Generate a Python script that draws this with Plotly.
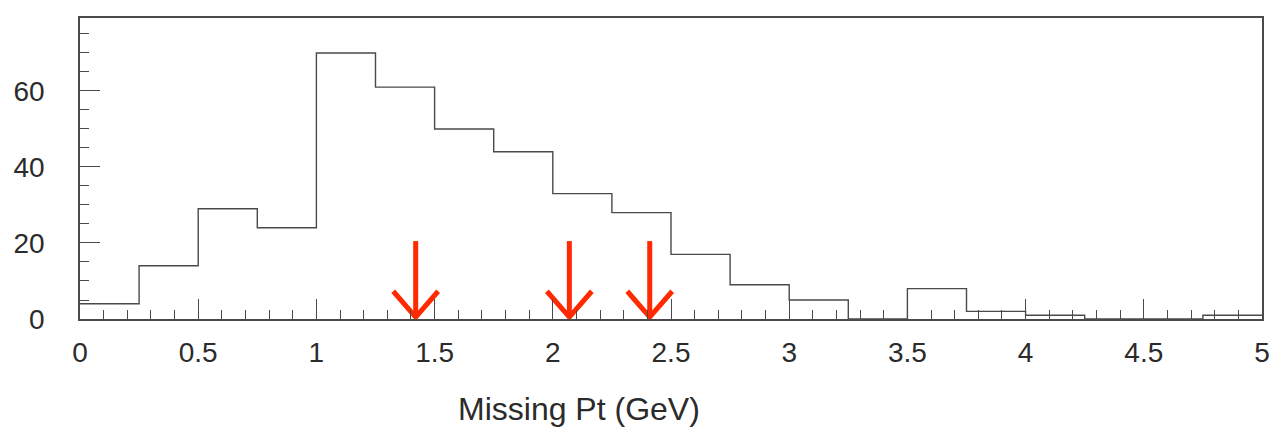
import plotly.graph_objects as go

# Histogram of missing transverse momentum, 0.25 GeV bins
bin_edges = [0.0, 0.25, 0.5, 0.75, 1.0, 1.25, 1.5, 1.75, 2.0, 2.25,
             2.5, 2.75, 3.0, 3.25, 3.5, 3.75, 4.0, 4.25, 4.5, 4.75, 5.0]
counts = [4, 14, 29, 24, 70, 61, 50, 44, 33, 28,
          17, 9, 5, 0, 8, 2, 1, 0, 0, 1]

# Positions of the marked cut values (GeV)
arrow_x = [1.42, 2.07, 2.41]
arrow_top = 20.5
arrow_tip = 0.5

LINE = "#4a4a4a"
TEXT = "#2b2b2b"
RED = "#ff2a00"

fig = go.Figure()

# step outline of the histogram
fig.add_trace(go.Scatter(
    x=bin_edges,
    y=counts + [counts[-1]],
    mode="lines",
    line=dict(shape="hv", color=LINE, width=1.4),
    hoverinfo="skip",
    showlegend=False,
))

# downward arrows with open chevron heads
wing_dx = 0.095
wing_dy = 6.8
for xa in arrow_x:
    fig.add_trace(go.Scatter(
        x=[xa, xa, None, xa - wing_dx, xa, xa + wing_dx],
        y=[arrow_top, arrow_tip, None, arrow_tip + wing_dy, arrow_tip, arrow_tip + wing_dy],
        mode="lines",
        line=dict(color=RED, width=5),
        hoverinfo="skip",
        showlegend=False,
    ))

fig.add_annotation(
    text="Missing Pt (GeV)",
    xref="paper", yref="paper",
    x=(579 - 80) / (1262 - 80), y=-0.30,
    xanchor="center", yanchor="middle",
    showarrow=False,
    font=dict(family="Liberation Sans, Arial, sans-serif", size=32, color=TEXT),
)

fig.update_layout(
    width=1282, height=440,
    margin=dict(l=80, r=20, t=18, b=121),
    paper_bgcolor="white",
    plot_bgcolor="white",
    font=dict(family="Liberation Sans, Arial, sans-serif", size=28, color=TEXT),
    xaxis=dict(
        range=[0, 5],
        tick0=0, dtick=0.5,
        ticks="inside", ticklen=20, tickwidth=1.2, tickcolor=LINE,
        minor=dict(dtick=0.1, ticks="inside", ticklen=9, tickwidth=1.2, tickcolor=LINE),
        showgrid=False, zeroline=False,
        showline=True, linecolor=LINE, linewidth=1.5, mirror=True,
        ticklabelstandoff=8,
    ),
    yaxis=dict(
        range=[0, 79.2],
        tick0=0, dtick=20,
        ticks="inside", ticklen=20, tickwidth=1.2, tickcolor=LINE,
        minor=dict(dtick=5, ticks="inside", ticklen=9, tickwidth=1.2, tickcolor=LINE),
        showgrid=False, zeroline=False,
        showline=True, linecolor=LINE, linewidth=1.5, mirror=True,
        ticklabelstandoff=28,
    ),
)

fig.write_html("out.html")
